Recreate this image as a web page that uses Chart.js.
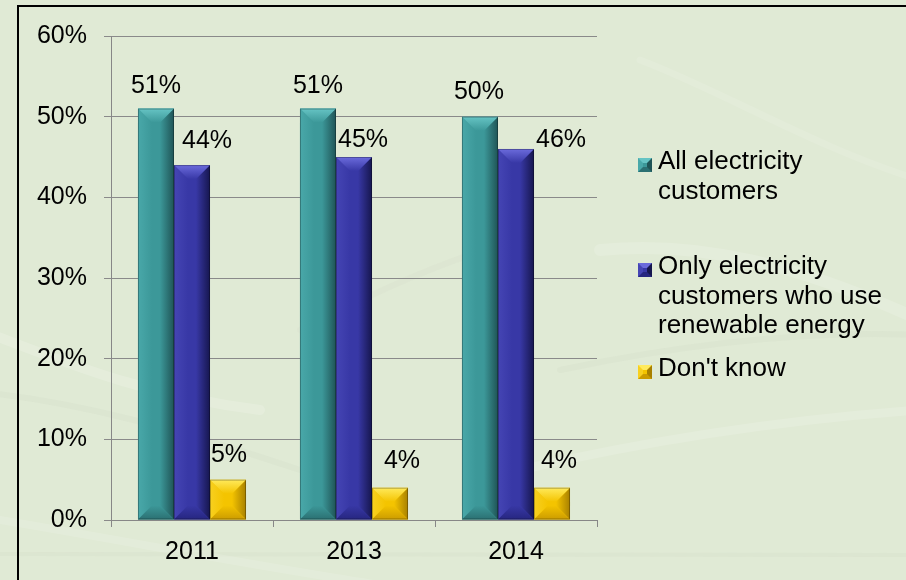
<!DOCTYPE html>
<html>
<head>
<meta charset="utf-8">
<script src="https://cdn.jsdelivr.net/npm/chart.js@4.4.1/dist/chart.umd.min.js"></script>
<style>
  html, body { margin: 0; padding: 0; background: #e0ead5; }
  #wrap { position: relative; width: 906px; height: 580px; overflow: hidden; background: #e0ead5;
          font-family: "Liberation Sans", Arial, sans-serif; }
  #bg, #chart { position: absolute; left: 0; top: 0; }
  #frame { position: absolute; left: 17px; top: 5px; width: 950px; height: 650px;
           border-top: 2px solid #000; border-left: 2px solid #000; pointer-events: none; }
  .item { position: absolute; left: 638px; width: 268px; }
  .mark { position: absolute; left: 0; width: 4px; height: 4px; border-style: solid; border-width: 5px; }
  .txt { position: absolute; left: 20px; width: 240px; font-size: 26px; line-height: 29.5px; color: #000; }
</style>
</head>
<body>
<div id="wrap">
  <canvas id="bg" width="906" height="580"></canvas>
  <canvas id="chart" width="906" height="580"></canvas>
  <div id="legend"></div>
  <div id="frame"></div>
</div>
<script>
// Survey answers, in percent
const categories = ['2011', '2013', '2014'];
const seriesNames = ['All electricity customers',
                     'Only electricity customers who use renewable energy',
                     "Don't know"];
const allCustomers = [51, 51, 50];
const renewableUsers = [44, 45, 46];
const dontKnow = [5, 4, 4];
const yTickValues = [0, 10, 20, 30, 40, 50, 60];

const FONT = '"Liberation Sans", Arial, sans-serif';

// Bevel shades per series: body, top face, left face, right face, bottom face
const shades = [
  { body: '#3c9899', top: '#66c4c4', left: '#49a8a9', right: '#1f5456', bottom: '#2b7072' },
  { body: '#3838a6', top: '#6b6bdc', left: '#4545b4', right: '#16164e', bottom: '#262680' },
  { body: '#f4c400', top: '#ffea5c', left: '#f8d020', right: '#a88000', bottom: '#cc9c00' }
];

// Soft paper-like swirls behind the chart
(function drawBackdrop() {
  const c = document.getElementById('bg').getContext('2d');
  c.fillStyle = '#e0ead5';
  c.fillRect(0, 0, 906, 580);
  c.lineCap = 'round';
  const strokes = [
    { w: 10, a: 0.16, col: '255,255,255', p: [[-20, 330], [60, 360], [140, 395], [260, 410]] },
    { w: 6,  a: 0.10, col: '185,195,175', p: [[-20, 392], [80, 402], [180, 430], [300, 470]] },
    { w: 12, a: 0.14, col: '255,255,255', p: [[600, 250], [700, 240], [800, 265], [920, 320]] },
    { w: 6,  a: 0.10, col: '185,195,175', p: [[560, 370], [680, 345], [800, 330], [920, 335]] },
    { w: 9,  a: 0.14, col: '255,255,255', p: [[520, 470], [650, 440], [780, 420], [920, 410]] },
    { w: 4,  a: 0.14, col: '195,205,185', p: [[0, 554], [300, 552], [600, 554], [920, 555]] },
    { w: 8,  a: 0.12, col: '255,255,255', p: [[0, 520], [120, 540], [250, 565], [380, 585]] },
    { w: 7,  a: 0.10, col: '255,255,255', p: [[640, 60], [720, 90], [820, 150], [920, 180]] },
    { w: 6,  a: 0.08, col: '185,195,175', p: [[300, 330], [360, 300], [440, 260], [520, 240]] }
  ];
  strokes.forEach(s => {
    c.strokeStyle = 'rgba(' + s.col + ',' + s.a + ')';
    c.lineWidth = s.w;
    c.beginPath();
    c.moveTo(s.p[0][0], s.p[0][1]);
    c.bezierCurveTo(s.p[1][0], s.p[1][1], s.p[2][0], s.p[2][1], s.p[3][0], s.p[3][1]);
    c.stroke();
  });
})();

// Bevelled faces drawn over each bar rectangle
const bevelBars = {
  id: 'bevelBars',
  afterDatasetsDraw(chart) {
    const ctx = chart.ctx;
    chart.data.datasets.forEach((ds, di) => {
      const sh = shades[di];
      chart.getDatasetMeta(di).data.forEach(el => {
        const w = el.width, L = el.x - w / 2, R = el.x + w / 2;
        const T = Math.min(el.y, el.base), B = Math.max(el.y, el.base);
        const h = B - T;
        const b = Math.min(14, w / 2, h / 2);
        ctx.save();
        // left face
        let g = ctx.createLinearGradient(L, 0, L + b, 0);
        g.addColorStop(0, sh.left); g.addColorStop(1, sh.body);
        ctx.fillStyle = g;
        ctx.beginPath(); ctx.moveTo(L, T); ctx.lineTo(L + b, T + b); ctx.lineTo(L + b, B - b); ctx.lineTo(L, B); ctx.closePath(); ctx.fill();
        // right face
        g = ctx.createLinearGradient(R, 0, R - b, 0);
        g.addColorStop(0, sh.right); g.addColorStop(1, sh.body);
        ctx.fillStyle = g;
        ctx.beginPath(); ctx.moveTo(R, T); ctx.lineTo(R - b, T + b); ctx.lineTo(R - b, B - b); ctx.lineTo(R, B); ctx.closePath(); ctx.fill();
        // top face
        g = ctx.createLinearGradient(0, T, 0, T + b);
        g.addColorStop(0, sh.top); g.addColorStop(1, sh.body);
        ctx.fillStyle = g;
        ctx.beginPath(); ctx.moveTo(L, T); ctx.lineTo(R, T); ctx.lineTo(R - b, T + b); ctx.lineTo(L + b, T + b); ctx.closePath(); ctx.fill();
        // bottom face
        g = ctx.createLinearGradient(0, B, 0, B - b);
        g.addColorStop(0, sh.bottom); g.addColorStop(1, sh.body);
        ctx.fillStyle = g;
        ctx.beginPath(); ctx.moveTo(L, B); ctx.lineTo(R, B); ctx.lineTo(R - b, B - b); ctx.lineTo(L + b, B - b); ctx.closePath(); ctx.fill();
        // outline
        ctx.strokeStyle = 'rgba(0,0,0,0.28)';
        ctx.lineWidth = 1;
        ctx.strokeRect(L + 0.5, T + 0.5, w - 1, h - 1);
        ctx.restore();
      });
    });
  }
};

// Value labels above the bars; [dx, gap above bar top] per series and year
const labelNudge = [
  [[0, 16], [0, 16], [-1, 18]],
  [[15, 17], [9, 10], [45, 2]],
  [[1, 18], [12, 20], [7, 20]]
];
const valueLabels = {
  id: 'valueLabels',
  afterDatasetsDraw(chart) {
    const ctx = chart.ctx;
    ctx.save();
    ctx.font = '25px ' + FONT;
    ctx.fillStyle = '#000';
    ctx.textAlign = 'center';
    ctx.textBaseline = 'alphabetic';
    chart.data.datasets.forEach((ds, di) => {
      chart.getDatasetMeta(di).data.forEach((el, i) => {
        const n = labelNudge[di][i];
        ctx.fillText(ds.data[i] + '%', el.x + n[0], el.y - n[1]);
      });
    });
    ctx.restore();
  }
};

const seriesValues = [allCustomers, renewableUsers, dontKnow];

new Chart(document.getElementById('chart'), {
  type: 'bar',
  data: {
    labels: categories,
    datasets: seriesValues.map((vals, i) => ({
      label: seriesNames[i],
      data: vals,
      backgroundColor: shades[i].body,
      borderWidth: 0,
      barPercentage: 1,
      categoryPercentage: 0.667
    }))
  },
  options: {
    responsive: false,
    animation: false,
    events: [],
    layout: { padding: { left: 0, right: 309, top: 36, bottom: 0 } },
    plugins: { legend: { display: false }, tooltip: { enabled: false } },
    scales: {
      x: {
        grid: { display: true, drawOnChartArea: false, drawTicks: true, tickLength: 7, color: '#878787', offset: true },
        border: { display: true, color: '#878787', width: 1 },
        ticks: { color: '#000', font: { size: 25, family: FONT }, padding: 10 },
        afterFit(scale) { scale.height = 60; }
      },
      y: {
        min: 0, max: 60,
        afterBuildTicks(scale) { scale.ticks = yTickValues.map(v => ({ value: v })); },
        grid: { color: '#8a8a8a', tickLength: 7, drawTicks: true },
        border: { display: true, color: '#878787', width: 1 },
        ticks: { color: '#000', font: { size: 25, family: FONT }, padding: 17, callback: v => v + '%' },
        afterFit(scale) { scale.width = 111; }
      }
    }
  },
  plugins: [bevelBars, valueLabels]
});

// Legend built from the series names
(function buildLegend() {
  const tops = [146, 251, 353];
  const host = document.getElementById('legend');
  seriesNames.forEach((name, i) => {
    const sh = shades[i];
    const item = document.createElement('div');
    item.className = 'item';
    item.style.top = tops[i] + 'px';
    const m = document.createElement('div');
    m.className = 'mark';
    m.style.top = '12px';
    m.style.background = sh.body;
    m.style.borderColor = sh.top + ' ' + sh.right + ' ' + sh.bottom + ' ' + sh.left;
    const t = document.createElement('div');
    t.className = 'txt';
    t.textContent = name;
    item.appendChild(m);
    item.appendChild(t);
    host.appendChild(item);
  });
})();
</script>
</body>
</html>
